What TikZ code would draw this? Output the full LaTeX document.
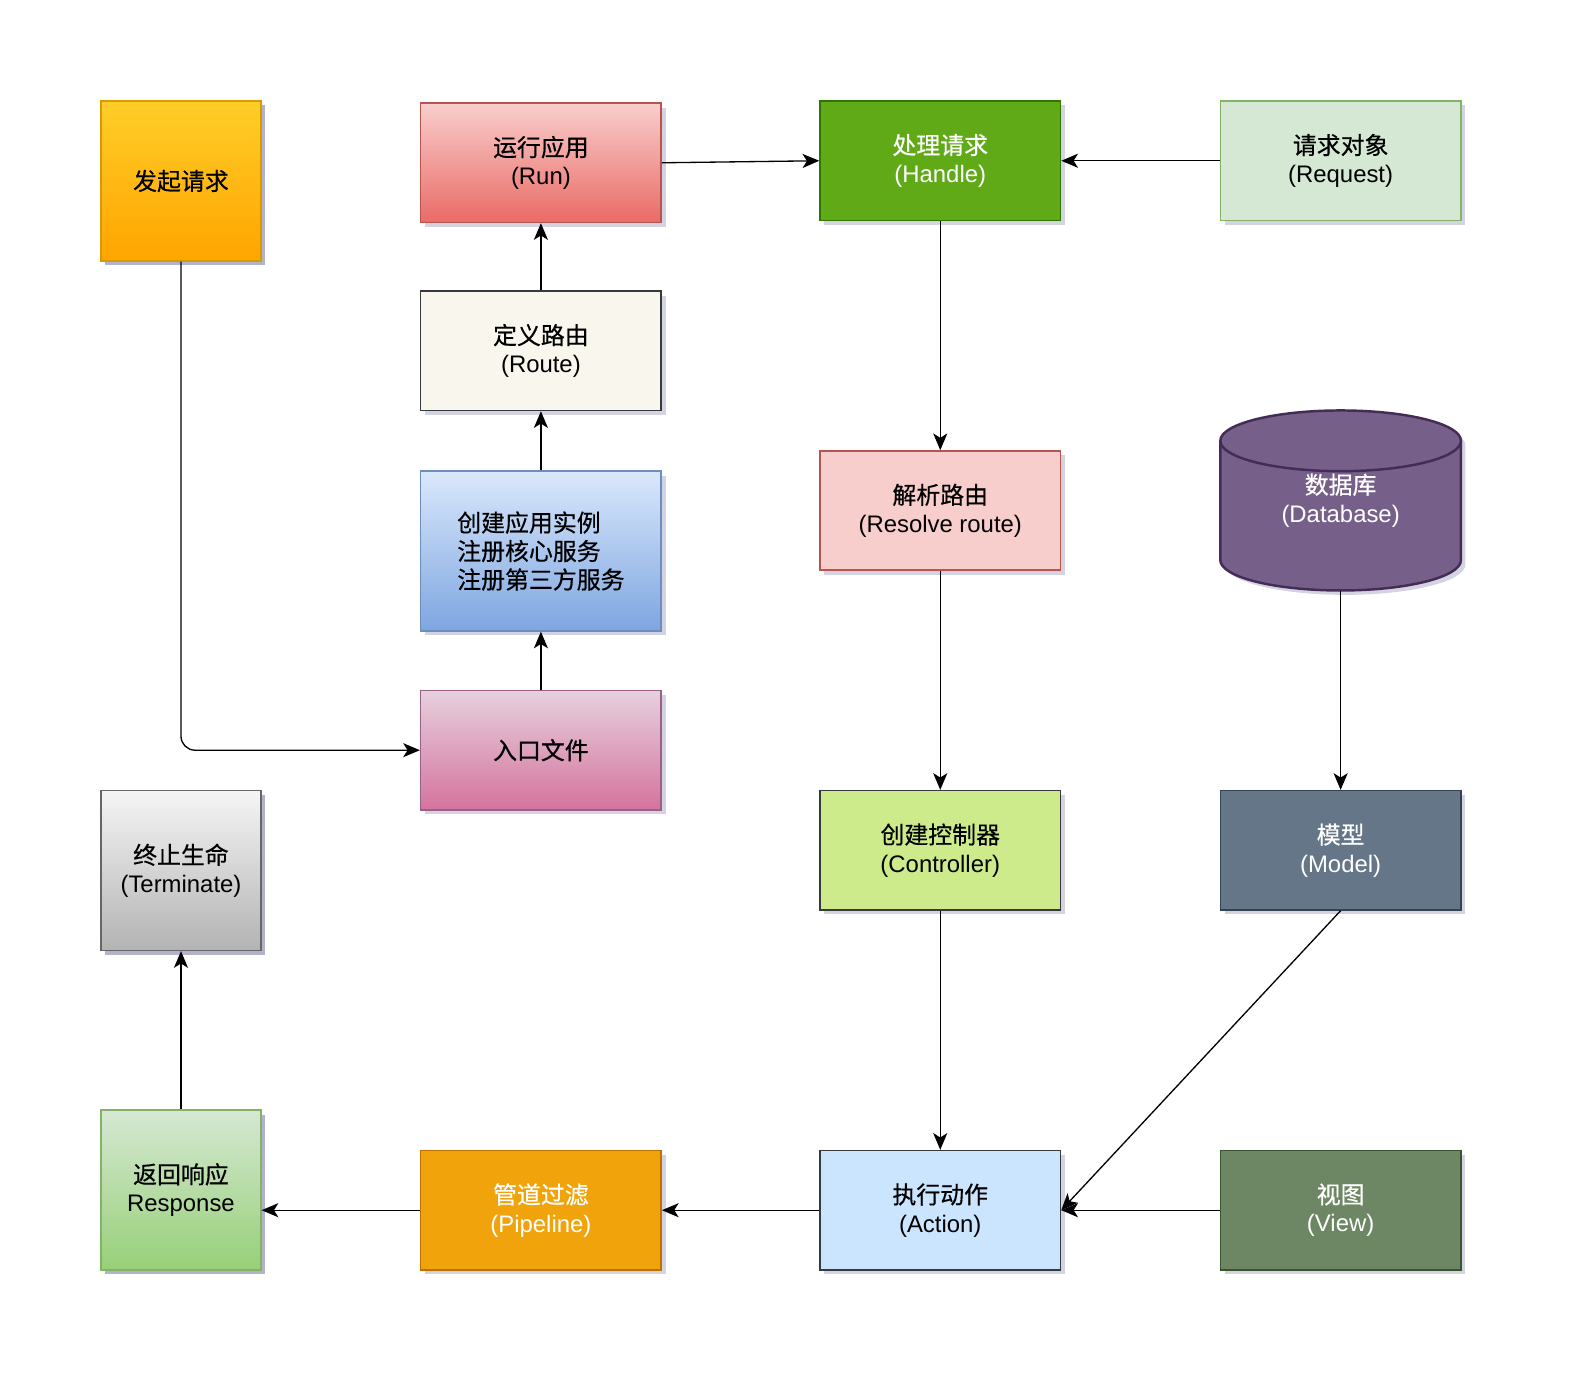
\documentclass[tikz,border=0pt]{standalone}
\usepackage{fontspec}
\setmainfont{Liberation Sans}
\newfontfamily\cjk{Noto Sans CJK SC}[FakeBold=0.5]
\usetikzlibrary{arrows.meta,shadows}

\definecolor{orangeT}{HTML}{FFCD28}
\definecolor{orangeB}{HTML}{FFA500}
\definecolor{orangeD}{HTML}{D79B00}
\definecolor{redT}{HTML}{F8CECC}
\definecolor{redB}{HTML}{EA6B66}
\definecolor{redD}{HTML}{B85450}
\definecolor{greenF}{HTML}{60A917}
\definecolor{greenD}{HTML}{2D7600}
\definecolor{lgreenF}{HTML}{D5E8D4}
\definecolor{lgreenB}{HTML}{97D077}
\definecolor{lgreenD}{HTML}{82B366}
\definecolor{creamF}{HTML}{F9F7ED}
\definecolor{darkD}{HTML}{36393D}
\definecolor{blueT}{HTML}{DAE8FC}
\definecolor{blueB}{HTML}{7EA6E0}
\definecolor{blueD}{HTML}{6C8EBF}
\definecolor{purpleF}{HTML}{76608A}
\definecolor{purpleD}{HTML}{432D57}
\definecolor{pinkT}{HTML}{E6D0DE}
\definecolor{pinkB}{HTML}{D5739D}
\definecolor{pinkD}{HTML}{996185}
\definecolor{grayT}{HTML}{F5F5F5}
\definecolor{grayB}{HTML}{B3B3B3}
\definecolor{grayD}{HTML}{666666}
\definecolor{limeF}{HTML}{CDEB8B}
\definecolor{slateF}{HTML}{647687}
\definecolor{slateD}{HTML}{314354}
\definecolor{ambF}{HTML}{F0A30A}
\definecolor{ambD}{HTML}{BD7000}
\definecolor{skyF}{HTML}{CCE5FF}
\definecolor{oliveF}{HTML}{6D8764}
\definecolor{oliveD}{HTML}{3A5431}
\definecolor{shadowC}{HTML}{50508A}

\tikzset{
  softshadow/.style={drop shadow={fill=shadowC, opacity=0.25,
    shadow xshift=2.5pt, shadow yshift=-2.5pt}},
  plainbox/.style={rectangle, line width=0.85pt, align=center,
    font=\fontsize{13.6}{16.2}\selectfont,
    minimum width=4.81cm, minimum height=2.386cm},
  box/.style={plainbox, softshadow},
  sqbox/.style={box, minimum width=3.195cm, minimum height=3.195cm},
  flow/.style={draw, line width=0.75pt,
    -{Stealth[length=9.5pt,width=8pt,inset=2.5pt]}}
}

\begin{document}
\begin{tikzpicture}[x=0.02022cm, y=-0.02022cm]

        \fill[white] (0,0) rectangle (1568.7,1378.8);
        \useasboundingbox (0,0) rectangle (1568.7,1378.8);

        % database cylinder
        \filldraw[fill=purpleF, draw=purpleD, line width=1.4pt, softshadow]
          (1207,436) -- (1207,554)
          arc[start angle=180, end angle=360, x radius=2.406cm, y radius=0.607cm]
          -- (1445,436)
          arc[start angle=0, end angle=180, x radius=2.406cm, y radius=0.607cm];
        \draw[draw=purpleD, line width=1.4pt] (1207,436)
          arc[start angle=180, end angle=360, x radius=2.406cm, y radius=0.607cm];
        \node[plainbox, text=white, minimum height=3.6cm]
          (db) at (1326,495) {{\cjk 数据库}\\(Database)};

        \begin{scope}[every node/.style={box}]
          \node[sqbox, top color=orangeT, bottom color=orangeB, draw=orangeD]
            (req) at (179,179) {\cjk 发起请求};
          \node[top color=redT, bottom color=redB, draw=redD]
            (run) at (535,161) {{\cjk 运行应用}\\(Run)};
          \node[fill=greenF, draw=greenD, text=white]
            (handle) at (930,159) {{\cjk 处理请求}\\(Handle)};
          \node[fill=lgreenF, draw=lgreenD]
            (reqobj) at (1326,159) {{\cjk 请求对象}\\(Request)};
          \node[fill=creamF, draw=darkD]
            (route) at (535,347) {{\cjk 定义路由}\\(Route)};
          \node[top color=blueT, bottom color=blueB, draw=blueD,
            minimum height=3.195cm, align=left]
            (boot) at (535,545) {\cjk 创建应用实例\\\cjk 注册核心服务\\\cjk 注册第三方服务};
          \node[fill=redT, draw=redD]
            (resolve) at (930,505) {{\cjk 解析路由}\\(Resolve route)};
          \node[top color=pinkT, bottom color=pinkB, draw=pinkD]
            (entry) at (535,742) {\cjk 入口文件};
          \node[sqbox, top color=grayT, bottom color=grayB, draw=grayD]
            (term) at (179,861) {{\cjk 终止生命}\\(Terminate)};
          \node[fill=limeF, draw=darkD]
            (ctrl) at (930,841) {{\cjk 创建控制器}\\(Controller)};
          \node[fill=slateF, draw=slateD, text=white]
            (model) at (1326,841) {{\cjk 模型}\\(Model)};
          \node[sqbox, top color=lgreenF, bottom color=lgreenB, draw=lgreenD]
            (resp) at (179,1177) {{\cjk 返回响应}\\Response};
          \node[fill=ambF, draw=ambD, text=white]
            (pipe) at (535,1197) {{\cjk 管道过滤}\\(Pipeline)};
          \node[fill=skyF, draw=darkD]
            (act) at (930,1197) {{\cjk 执行动作}\\(Action)};
          \node[fill=oliveF, draw=oliveD, text=white]
            (view) at (1326,1197) {{\cjk 视图}\\(View)};
        \end{scope}

        % connectors
        \draw[flow, rounded corners=8pt] (req.south) -- (req.south |- entry.west) -- (entry.west);
        \draw[flow] (entry) -- (boot);
        \draw[flow] (boot) -- (route);
        \draw[flow] (route) -- (run);
        \draw[flow] (run.east) -- (handle.west);
        \draw[flow] (reqobj) -- (handle);
        \draw[flow] (handle) -- (resolve);
        \draw[flow] (resolve) -- (ctrl);
        \draw[flow] (db) -- (model);
        \draw[flow] (ctrl) -- (act);
        \draw[flow] (model.south) -- (act.east);
        \draw[flow] (view) -- (act);
        \draw[flow] (act) -- (pipe);
        \draw[flow] (pipe.west) -- (pipe.west -| resp.east);
        \draw[flow] (resp) -- (term);

      \end{tikzpicture}
\end{document}
